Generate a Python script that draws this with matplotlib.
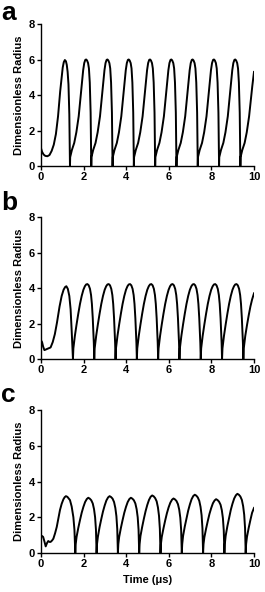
import matplotlib
matplotlib.use("Agg")
import matplotlib.pyplot as plt

plt.rcParams['font.family'] = ['Liberation Sans', 'DejaVu Sans']
plt.rcParams['font.weight'] = 'bold'

# panel a: strongest driving, peaks near 6
time_a = [
    0.00, 0.05, 0.12, 0.20, 0.30, 0.40, 0.50, 0.60, 0.70, 0.80, 0.90, 0.97, 1.02, 1.07, 1.12, 1.17, 1.21, 1.25, 1.29, 1.33, 1.36,
    1.37, 1.45, 1.56, 1.66, 1.77, 1.85, 1.92, 1.98, 2.03, 2.08, 2.12, 2.16, 2.21, 2.25, 2.29, 2.33, 2.36,
    2.37, 2.45, 2.56, 2.66, 2.77, 2.85, 2.92, 2.98, 3.03, 3.08, 3.12, 3.16, 3.21, 3.25, 3.29, 3.33, 3.36,
    3.37, 3.45, 3.56, 3.66, 3.77, 3.85, 3.92, 3.98, 4.03, 4.08, 4.12, 4.16, 4.21, 4.25, 4.29, 4.33, 4.36,
    4.37, 4.45, 4.56, 4.66, 4.77, 4.85, 4.92, 4.98, 5.03, 5.08, 5.12, 5.16, 5.21, 5.25, 5.29, 5.33, 5.36,
    5.37, 5.45, 5.56, 5.66, 5.77, 5.85, 5.92, 5.98, 6.03, 6.08, 6.12, 6.16, 6.21, 6.25, 6.29, 6.33, 6.36,
    6.37, 6.45, 6.56, 6.66, 6.77, 6.85, 6.92, 6.98, 7.03, 7.08, 7.12, 7.16, 7.21, 7.25, 7.29, 7.33, 7.36,
    7.37, 7.45, 7.56, 7.66, 7.77, 7.85, 7.92, 7.98, 8.03, 8.08, 8.12, 8.16, 8.21, 8.25, 8.29, 8.33, 8.36,
    8.37, 8.45, 8.56, 8.66, 8.77, 8.85, 8.92, 8.98, 9.03, 9.08, 9.12, 9.16, 9.21, 9.25, 9.29, 9.33, 9.36,
    9.37, 9.45, 9.56, 9.66, 9.77, 9.85, 9.92, 10.00,
]
radius_a = [
    1.00, 0.80, 0.65, 0.57, 0.55, 0.62, 0.85, 1.20, 1.80, 2.80, 4.20, 5.00, 5.55, 5.85, 5.97, 5.90, 5.70, 5.30, 4.60, 2.90, 0.00,
    0.50, 0.90, 1.30, 1.90, 2.80, 3.80, 4.70, 5.40, 5.80, 5.98, 6.00, 5.95, 5.80, 5.50, 4.70, 3.00, 0.00,
    0.50, 0.90, 1.30, 1.90, 2.80, 3.80, 4.70, 5.40, 5.80, 5.98, 6.00, 5.95, 5.80, 5.50, 4.70, 3.00, 0.00,
    0.50, 0.90, 1.30, 1.90, 2.80, 3.80, 4.70, 5.40, 5.80, 5.98, 6.00, 5.95, 5.80, 5.50, 4.70, 3.00, 0.00,
    0.50, 0.90, 1.30, 1.90, 2.80, 3.80, 4.70, 5.40, 5.80, 5.98, 6.00, 5.95, 5.80, 5.50, 4.70, 3.00, 0.00,
    0.50, 0.90, 1.30, 1.90, 2.80, 3.80, 4.70, 5.40, 5.80, 5.98, 6.00, 5.95, 5.80, 5.50, 4.70, 3.00, 0.00,
    0.50, 0.90, 1.30, 1.90, 2.80, 3.80, 4.70, 5.40, 5.80, 5.98, 6.00, 5.95, 5.80, 5.50, 4.70, 3.00, 0.00,
    0.50, 0.90, 1.30, 1.90, 2.80, 3.80, 4.70, 5.40, 5.80, 5.98, 6.00, 5.95, 5.80, 5.50, 4.70, 3.00, 0.00,
    0.50, 0.90, 1.30, 1.90, 2.80, 3.80, 4.70, 5.40, 5.80, 5.98, 6.00, 5.95, 5.80, 5.50, 4.70, 3.00, 0.00,
    0.50, 0.90, 1.30, 1.90, 2.80, 3.70, 4.50, 5.30,
]

# panel b: peaks near 4.2
time_b = [
    0.00, 0.05, 0.10, 0.16, 0.25, 0.35, 0.45, 0.55, 0.65, 0.75, 0.87, 0.97, 1.06, 1.13, 1.19, 1.26, 1.33, 1.39, 1.44, 1.50,
    1.52, 1.59, 1.67, 1.75, 1.83, 1.91, 1.99, 2.06, 2.12, 2.18, 2.24, 2.30, 2.35, 2.39, 2.43, 2.46, 2.48, 2.50,
    2.52, 2.59, 2.67, 2.75, 2.83, 2.91, 2.99, 3.06, 3.12, 3.18, 3.24, 3.30, 3.35, 3.39, 3.43, 3.46, 3.48, 3.50,
    3.52, 3.59, 3.67, 3.75, 3.83, 3.91, 3.99, 4.06, 4.12, 4.18, 4.24, 4.30, 4.35, 4.39, 4.43, 4.46, 4.48, 4.50,
    4.52, 4.59, 4.67, 4.75, 4.83, 4.91, 4.99, 5.06, 5.12, 5.18, 5.24, 5.30, 5.35, 5.39, 5.43, 5.46, 5.48, 5.50,
    5.52, 5.59, 5.67, 5.75, 5.83, 5.91, 5.99, 6.06, 6.12, 6.18, 6.24, 6.30, 6.35, 6.39, 6.43, 6.46, 6.48, 6.50,
    6.52, 6.59, 6.67, 6.75, 6.83, 6.91, 6.99, 7.06, 7.12, 7.18, 7.24, 7.30, 7.35, 7.39, 7.43, 7.46, 7.48, 7.50,
    7.52, 7.59, 7.67, 7.75, 7.83, 7.91, 7.99, 8.06, 8.12, 8.18, 8.24, 8.30, 8.35, 8.39, 8.43, 8.46, 8.48, 8.50,
    8.52, 8.59, 8.67, 8.75, 8.83, 8.91, 8.99, 9.06, 9.12, 9.18, 9.24, 9.30, 9.35, 9.39, 9.43, 9.46, 9.48, 9.50,
    9.52, 9.59, 9.67, 9.75, 9.83, 9.91, 10.00,
]
radius_b = [
    1.05, 0.95, 0.70, 0.50, 0.55, 0.60, 0.65, 0.95, 1.40, 2.05, 2.95, 3.55, 3.90, 4.05, 4.10, 3.95, 3.55, 2.80, 1.60, 0.00,
    0.60, 1.30, 1.95, 2.55, 3.10, 3.55, 3.90, 4.10, 4.20, 4.22, 4.15, 3.95, 3.60, 3.10, 2.30, 1.50, 0.90, 0.00,
    0.60, 1.30, 1.95, 2.55, 3.10, 3.55, 3.90, 4.10, 4.20, 4.22, 4.15, 3.95, 3.60, 3.10, 2.30, 1.50, 0.90, 0.00,
    0.60, 1.30, 1.95, 2.55, 3.10, 3.55, 3.90, 4.10, 4.20, 4.22, 4.15, 3.95, 3.60, 3.10, 2.30, 1.50, 0.90, 0.00,
    0.60, 1.30, 1.95, 2.55, 3.10, 3.55, 3.90, 4.10, 4.20, 4.22, 4.15, 3.95, 3.60, 3.10, 2.30, 1.50, 0.90, 0.00,
    0.60, 1.30, 1.95, 2.55, 3.10, 3.55, 3.90, 4.10, 4.20, 4.22, 4.15, 3.95, 3.60, 3.10, 2.30, 1.50, 0.90, 0.00,
    0.60, 1.30, 1.95, 2.55, 3.10, 3.55, 3.90, 4.10, 4.20, 4.22, 4.15, 3.95, 3.60, 3.10, 2.30, 1.50, 0.90, 0.00,
    0.60, 1.30, 1.95, 2.55, 3.10, 3.55, 3.90, 4.10, 4.20, 4.22, 4.15, 3.95, 3.60, 3.10, 2.30, 1.50, 0.90, 0.00,
    0.60, 1.30, 1.95, 2.55, 3.10, 3.55, 3.90, 4.10, 4.20, 4.22, 4.15, 3.95, 3.60, 3.10, 2.30, 1.50, 0.90, 0.00,
    0.60, 1.30, 1.90, 2.45, 2.95, 3.35, 3.70,
]

# panel c: peaks near 3.1, alternating a little
time_c = [
    0.00, 0.05, 0.10, 0.16, 0.22, 0.28, 0.34, 0.40, 0.45, 0.52, 0.58, 0.66, 0.74, 0.82, 0.89, 0.97, 1.05, 1.11, 1.17, 1.24, 1.30, 1.36, 1.44, 1.52, 1.57, 1.61,
    1.63, 1.67, 1.75, 1.83, 1.91, 1.99, 2.07, 2.15, 2.22, 2.29, 2.36, 2.43, 2.49, 2.54, 2.58, 2.61,
    2.63, 2.67, 2.75, 2.83, 2.91, 2.99, 3.07, 3.15, 3.22, 3.29, 3.36, 3.43, 3.49, 3.54, 3.58, 3.61,
    3.63, 3.67, 3.75, 3.83, 3.91, 3.99, 4.07, 4.15, 4.22, 4.29, 4.36, 4.43, 4.49, 4.54, 4.58, 4.61,
    4.63, 4.67, 4.75, 4.83, 4.91, 4.99, 5.07, 5.15, 5.22, 5.29, 5.36, 5.43, 5.49, 5.54, 5.58, 5.61,
    5.63, 5.67, 5.75, 5.83, 5.91, 5.99, 6.07, 6.15, 6.22, 6.29, 6.36, 6.43, 6.49, 6.54, 6.58, 6.61,
    6.63, 6.67, 6.75, 6.83, 6.91, 6.99, 7.07, 7.15, 7.22, 7.29, 7.36, 7.43, 7.49, 7.54, 7.58, 7.61,
    7.63, 7.67, 7.75, 7.83, 7.91, 7.99, 8.07, 8.15, 8.22, 8.29, 8.36, 8.43, 8.49, 8.54, 8.58, 8.61,
    8.63, 8.67, 8.75, 8.83, 8.91, 8.99, 9.07, 9.15, 9.22, 9.29, 9.36, 9.43, 9.49, 9.54, 9.58, 9.61,
    9.63, 9.67, 9.75, 9.83, 9.91, 10.00,
]
radius_c = [
    0.95, 0.95, 0.90, 0.65, 0.37, 0.55, 0.67, 0.62, 0.62, 0.70, 0.80, 1.10, 1.46, 1.95, 2.40, 2.75, 3.00, 3.12, 3.18, 3.14, 3.05, 2.96, 2.60, 2.00, 1.30, 0.00,
    0.50, 0.90, 1.40, 1.84, 2.25, 2.58, 2.85, 3.02, 3.09, 3.04, 2.95, 2.77, 2.45, 2.00, 1.30, 0.00,
    0.50, 0.90, 1.45, 1.90, 2.32, 2.66, 2.94, 3.11, 3.18, 3.13, 3.04, 2.85, 2.52, 2.06, 1.34, 0.00,
    0.50, 0.90, 1.40, 1.84, 2.25, 2.58, 2.85, 3.02, 3.09, 3.04, 2.95, 2.77, 2.45, 2.00, 1.30, 0.00,
    0.50, 0.95, 1.46, 1.92, 2.34, 2.69, 2.97, 3.15, 3.22, 3.17, 3.07, 2.89, 2.55, 2.08, 1.35, 0.00,
    0.50, 0.90, 1.38, 1.82, 2.22, 2.55, 2.81, 2.98, 3.05, 3.00, 2.91, 2.73, 2.42, 1.97, 1.28, 0.00,
    0.50, 0.95, 1.48, 1.94, 2.37, 2.72, 3.01, 3.19, 3.26, 3.21, 3.11, 2.92, 2.58, 2.11, 1.37, 0.00,
    0.50, 0.88, 1.36, 1.79, 2.19, 2.51, 2.78, 2.94, 3.01, 2.96, 2.87, 2.70, 2.39, 1.95, 1.27, 0.00,
    0.50, 0.96, 1.50, 1.97, 2.41, 2.76, 3.05, 3.23, 3.31, 3.26, 3.16, 2.97, 2.62, 2.14, 1.39, 0.00,
    0.50, 0.90, 1.40, 1.84, 2.25, 2.52,
]

panel_letters = ['a', 'b', 'c']
x_ticks = [0, 2, 4, 6, 8, 10]
y_ticks = [0, 2, 4, 6, 8]

fig = plt.figure(figsize=(2.65, 5.92), dpi=100)
W, H = 265, 592
# pixel boxes of each axes: left, top, right, bottom
boxes = [(41, 24, 254, 166), (41, 217, 254, 359), (41, 410, 254, 553)]
letter_y = [20, 210, 402]
series = [(time_a, radius_a), (time_b, radius_b), (time_c, radius_c)]

for i in range(3):
    l, t, r, b = boxes[i]
    ax = fig.add_axes([l / W, 1 - b / H, (r - l) / W, (b - t) / H])
    ax.plot(series[i][0], series[i][1], color='black', lw=1.4, solid_joinstyle='round')
    ax.set_xlim(0, 10)
    ax.set_ylim(0, 8)
    ax.set_xticks(x_ticks)
    ax.set_yticks(y_ticks)
    for s in ['top', 'right']:
        ax.spines[s].set_visible(False)
    for s in ['left', 'bottom']:
        ax.spines[s].set_linewidth(1.0)
    ax.tick_params(direction='out', length=3, width=1.0, labelsize=8, pad=1.5)
    ax.set_ylabel('Dimensionless Radius', fontsize=8, fontweight='bold', labelpad=3)
    if i == 2:
        ax.set_xlabel('Time (\u03bcs)', fontsize=8, fontweight='bold', labelpad=4)
    fig.text(1 / W, 1 - letter_y[i] / H, panel_letters[i], fontsize=19,
             fontweight='bold', va='baseline', ha='left')

fig.savefig('out.png', dpi=100)
